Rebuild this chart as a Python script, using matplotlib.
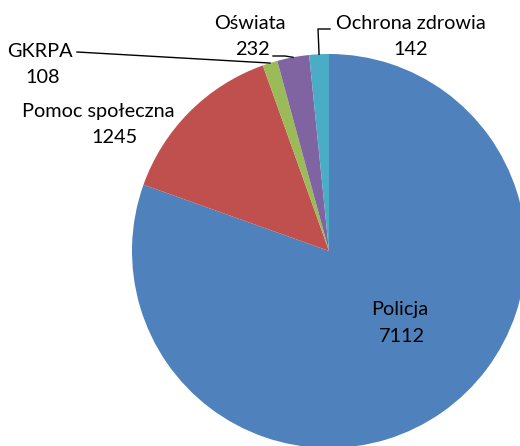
import numpy as np
import matplotlib
matplotlib.use("Agg")
import matplotlib.pyplot as plt

categories = ["Policja", "Pomoc społeczna", "GKRPA", "Oświata", "Ochrona zdrowia"]
values = [7112, 1245, 108, 232, 142]
colors = ["#4F81BD", "#C0504D", "#9BBB59", "#8064A2", "#4BACC6"]

W, H = 520, 446
fig = plt.figure(figsize=(W / 100, H / 100), dpi=100)
ax = fig.add_axes([0, 0, 1, 1])

def Y(y):
    return H - y

cx, cy, R = 329, 251, 197
wedges, _ = ax.pie(values, colors=colors, startangle=90, counterclock=False,
                   center=(cx, Y(cy)), radius=R, wedgeprops=dict(linewidth=0))
ax.set_xlim(0, W)
ax.set_ylim(0, H)
ax.set_aspect("equal")
ax.axis("off")

font = dict(family="Lato", fontsize=14.3, color="black")

# label baselines (image coords): (x center, baseline line1, baseline line2, x center line2)
label_pos = {
    "Policja": (400, 315, 342, 402),
    "Pomoc społeczna": (98, 117, 143, 114),
    "GKRPA": (40, 57, 83, 43),
    "Oświata": (250, 29, 55, 252),
    "Ochrona zdrowia": (411, 29, 55, 411),
}
for cat, val in zip(categories, values):
    x1, b1, b2, x2 = label_pos[cat]
    ax.text(x1, Y(b1), cat, ha="center", va="baseline", **font)
    ax.text(x2, Y(b2), str(val), ha="center", va="baseline", **font)

# leader line end points on wedge edges (mid-angle)
def edge_point(w):
    ang = np.deg2rad((w.theta1 + w.theta2) / 2)
    return cx + R * np.cos(ang), Y(cy) + R * np.sin(ang)

leaders = {
    "GKRPA": [(77, 52)],
    "Oświata": [(273, 56), (285, 56)],
    "Ochrona zdrowia": [(330, 29), (318, 29)],
}
for w, cat in zip(wedges, categories):
    if cat in leaders:
        pts = [(x, Y(y)) for x, y in leaders[cat]] + [edge_point(w)]
        xs, ys = zip(*pts)
        ax.plot(xs, ys, color="black", lw=1.0)

fig.savefig("out.png", dpi=100)
